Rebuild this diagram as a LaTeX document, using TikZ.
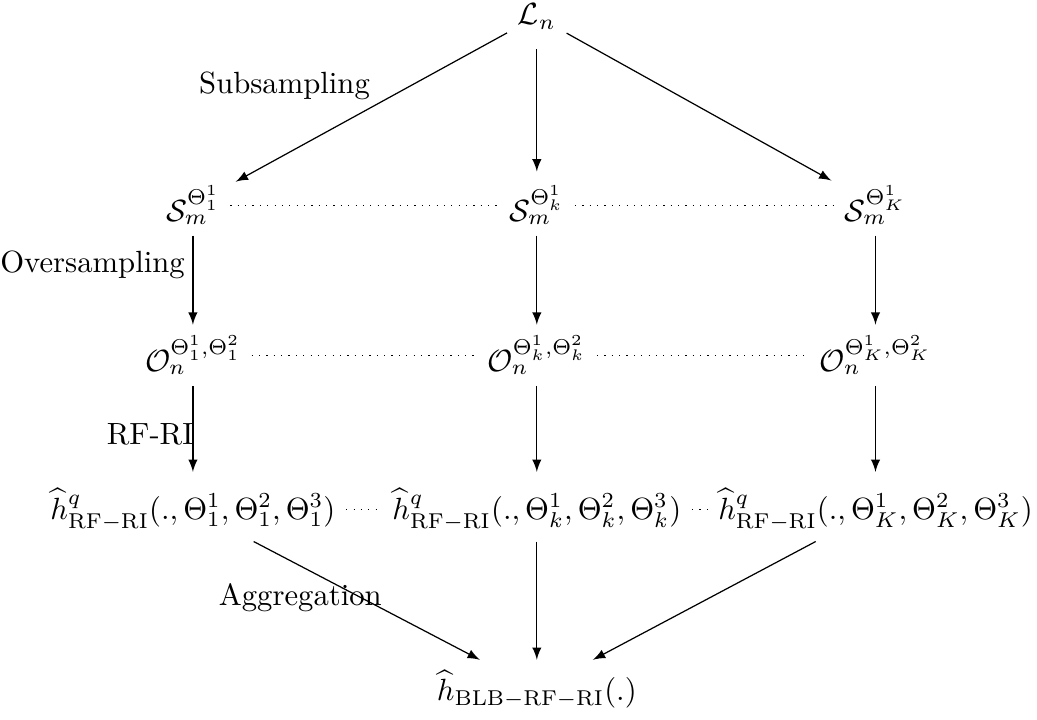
\documentclass[tikz,border=0pt]{standalone}
\usepackage{amsmath,amssymb}
\usetikzlibrary{arrows.meta,positioning}

\begin{document}
\begin{tikzpicture}[>=latex, arr/.style={->}, dots/.style={dotted}]
    \useasboundingbox (0,0) rectangle (11.88,-8.24);
    % Original sample
    \node (Ln) at (6.15,-0.19) {$\mathcal{L}_n$};

    % Subsamples
    \node (S1) at (2.21,-2.35) {$\mathcal{S}_m^{\Theta_1^1}$};
    \node (Sk) at (6.15,-2.35) {$\mathcal{S}_m^{\Theta_k^1}$};
    \node (SK) at (10.03,-2.35) {$\mathcal{S}_m^{\Theta_K^1}$};

    % Oversamples
    \node (O1) at (2.21,-4.07) {$\mathcal{O}_n^{\Theta_1^1,\Theta_1^2}$};
    \node (Ok) at (6.15,-4.07) {$\mathcal{O}_n^{\Theta_k^1,\Theta_k^2}$};
    \node (OK) at (10.03,-4.07) {$\mathcal{O}_n^{\Theta_K^1,\Theta_K^2}$};

    % Forests
    \node (h1) at (2.21,-5.84) {$\widehat{h}^q_{\mathrm{RF-RI}}(.,\Theta_1^1,\Theta_1^2,\Theta_1^3)$};
    \node (hk) at (6.15,-5.84) {$\widehat{h}^q_{\mathrm{RF-RI}}(.,\Theta_k^1,\Theta_k^2,\Theta_k^3)$};
    \node (hK) at (10.03,-5.84) {$\widehat{h}^q_{\mathrm{RF-RI}}(.,\Theta_K^1,\Theta_K^2,\Theta_K^3)$};

    % Aggregated estimator
    \node (hBLB) at (6.15,-7.9) {$\widehat{h}_{\mathrm{BLB-RF-RI}}(.)$};

    % Step labels
    \node at (3.26,-0.98) {Subsampling};
    \node at (1.06,-3.03) {Oversampling};
    \node at (1.72,-4.98) {RF-RI};
    \node at (3.44,-6.85) {Aggregation};

    % Arrows
    \draw[arr,shorten >=2pt] (Ln) -- (S1);
    \draw[arr,shorten <=3pt,shorten >=1pt] (Ln) -- (Sk);
    \draw[arr,shorten >=1pt] (Ln) -- (SK);
    \draw[arr] (S1) -- (O1);
    \draw[arr] (Sk) -- (Ok);
    \draw[arr] (SK) -- (OK);
    \draw[arr,shorten >=2pt] (O1) -- (h1);
    \draw[arr,shorten >=2pt] (Ok) -- (hk);
    \draw[arr,shorten >=2pt] (OK) -- (hK);
    \draw[arr] (h1) -- (hBLB);
    \draw[arr] (hk) -- (hBLB);
    \draw[arr] (hK) -- (hBLB);

    % Dots
    \draw[dots] (S1) -- (Sk);
    \draw[dots] (Sk) -- (SK);
    \draw[dots] (O1) -- (Ok);
    \draw[dots] (Ok) -- (OK);
    \draw[dots] (h1) -- (hk);
    \draw[dots] (hk) -- (hK);
\end{tikzpicture}
\end{document}
